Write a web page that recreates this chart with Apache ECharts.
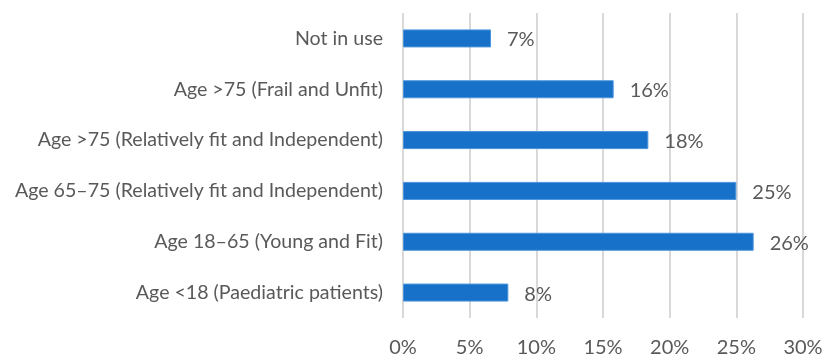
<!DOCTYPE html>
<html>
<head>
<meta charset="utf-8">
<script src="https://cdn.jsdelivr.net/npm/echarts@6/dist/echarts.min.js"></script>
<style>
  html, body { margin: 0; padding: 0; background: #ffffff; }
  #chart { width: 838px; height: 358px; }
</style>
</head>
<body>
<div id="chart"></div>
<script>
// Patient groups, listed top to bottom
const categories = [
  'Not in use',
  'Age >75 (Frail and Unfit)',
  'Age >75 (Relatively fit and Independent)',
  'Age 65\u201375 (Relatively fit and Independent)',
  'Age 18\u201365 (Young and Fit)',
  'Age <18 (Paediatric patients)'
];
// Share of respondents, percent
const shares = [6.6, 15.8, 18.4, 25.0, 26.3, 7.9];
// Horizontal axis ticks, percent
const axisTicks = [0, 5, 10, 15, 20, 25, 30];

const textColor = '#595959';
const fontFamily = 'Lato, "Open Sans", sans-serif';

const chart = echarts.init(document.getElementById('chart'), null, { renderer: 'canvas' });
chart.setOption({
  animation: false,
  grid: { left: 403, right: 35, top: 13, bottom: 40, containLabel: false },
  xAxis: {
    type: 'value',
    min: axisTicks[0],
    max: axisTicks[axisTicks.length - 1],
    interval: axisTicks[1] - axisTicks[0],
    axisLine: { show: false },
    axisTick: { show: false },
    splitLine: { show: true, lineStyle: { color: '#d9d9d9', width: 2 } },
    axisLabel: {
      color: textColor,
      fontFamily: fontFamily,
      fontSize: 20,
      margin: 20,
      formatter: v => v + '%'
    }
  },
  yAxis: {
    type: 'category',
    inverse: true,
    data: categories,
    axisLine: { show: false },
    axisTick: { show: false },
    axisLabel: {
      color: textColor,
      fontFamily: fontFamily,
      fontSize: 19.6,
      margin: 20
    }
  },
  series: [{
    type: 'bar',
    data: shares,
    barWidth: 18,
    itemStyle: { color: '#1771c8', borderColor: '#4a94dc', borderWidth: 1 },
    label: {
      show: true,
      position: 'right',
      distance: 16,
      offset: [0, 1.5],
      color: textColor,
      fontFamily: fontFamily,
      fontSize: 20,
      formatter: p => Math.round(p.value) + '%'
    }
  }]
});
</script>
</body>
</html>
